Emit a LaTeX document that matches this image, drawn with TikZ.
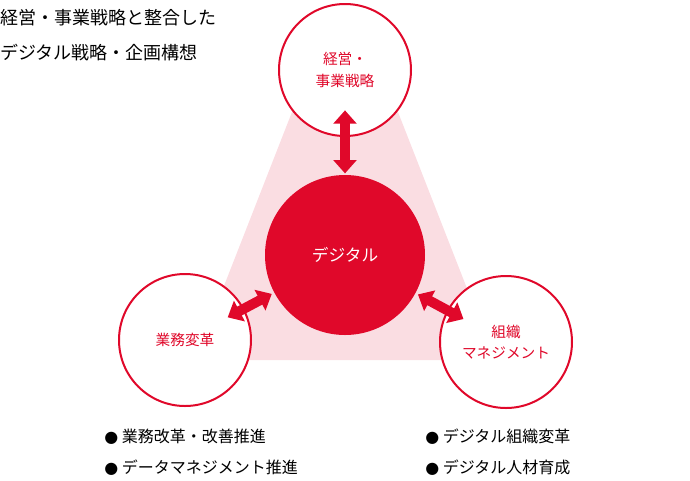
\documentclass[tikz,border=0pt]{standalone}
\usepackage{fontspec}
\setmainfont{Noto Sans CJK JP}
\usepackage{tikz}
\usetikzlibrary{arrows.meta}
\definecolor{dxred}{HTML}{E0082A}
\definecolor{dxpink}{HTML}{FADDE2}
\tikzset{
  outer/.style={circle,draw=dxred,line width=1.5pt,fill=white,minimum size=99pt,inner sep=0pt,text=dxred,font=\fontsize{11}{16}\selectfont,align=center},
  link/.style={draw=dxred,line width=7.5pt,{Triangle[width=17pt,length=10pt]}-{Triangle[width=17pt,length=10pt]}},
  label/.style={anchor=west,inner sep=0pt,font=\fontsize{12}{14}\selectfont}
}
\begin{document}
\begin{tikzpicture}[x=0.75pt,y=0.75pt,yscale=-1,xscale=1]
\useasboundingbox (0,0) rectangle (690,480);

%Background triangle
\fill[dxpink] (292,112) -- (398,112) -- (495,360) -- (195,360) -- cycle;

%Circles
\node[outer] (strategy) at (345,70) {経営・\\事業戦略};
\node[circle,fill=dxred,minimum size=120pt,inner sep=0pt,text=white,font=\fontsize{12.5}{15}\selectfont] (digital) at (345,255) {デジタル};
\node[outer] (business) at (185,340) {業務変革};
\node[outer] (org) at (506,342) {組織\\マネジメント};

%Arrows
\draw[link,shorten <=-20pt,shorten >=1pt] (strategy) -- (digital);
\draw[link,shorten <=-14pt,shorten >=2pt] (business) -- (digital);
\draw[link,shorten <=-14pt,shorten >=2pt] (org) -- (digital);

% Text Node
\node[label,font=\fontsize{13.5}{15}\selectfont] (title1) at (0,18) {経営・事業戦略と整合した};
\node[label,font=\fontsize{13.5}{15}\selectfont] (title2) at (0,53) {デジタル戦略・企画構想};
\node[label] (b1) at (104,437) {{\fontspec{DejaVu Sans}●} 業務改革・改善推進};
\node[label] (b2) at (104,468) {{\fontspec{DejaVu Sans}●} データマネジメント推進};
\node[label] (b3) at (425,437) {{\fontspec{DejaVu Sans}●} デジタル組織変革};
\node[label] (b4) at (425,468) {{\fontspec{DejaVu Sans}●} デジタル人材育成};
\end{tikzpicture}
\end{document}
